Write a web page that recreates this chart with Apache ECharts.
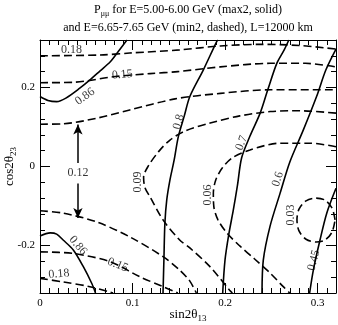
<!DOCTYPE html>
<html>
<head>
<meta charset="utf-8">
<script src="https://cdn.jsdelivr.net/npm/echarts@6.0.0/dist/echarts.min.js"></script>
<style>
html, body { margin: 0; padding: 0; background: #fff; }
#chart { width: 338px; height: 325px; }
</style>
</head>
<body>
<div id="chart"></div>
<script>
// ticks
var xMajor = [0, 0.1, 0.2, 0.3];
var yMajor = [-0.2, 0, 0.2];

// max2 contours (solid), [sin2θ13, cos2θ23]
var max2_086a = [[0,0.177],[0.0086,0.167],[0.018,0.164],[0.028,0.173],[0.043,0.198],[0.054,0.219],[0.065,0.242],[0.076,0.265],[0.085,0.292],[0.094,0.32]];
var max2_086b = [[0,-0.176],[0.011,-0.168],[0.018,-0.171],[0.025,-0.186],[0.036,-0.211],[0.047,-0.254],[0.056,-0.296],[0.060,-0.32]];
var max2_080 = [[0.133,-0.32],[0.134,-0.232],[0.135,-0.144],[0.137,-0.085],[0.1405,-0.034],[0.145,0.016],[0.1495,0.075],[0.156,0.128],[0.162,0.177],[0.1765,0.244],[0.191,0.316],[0.1924,0.32]];
var max2_070 = [[0.1975,-0.32],[0.200,-0.237],[0.204,-0.173],[0.209,-0.110],[0.2135,-0.047],[0.218,0.022],[0.227,0.077],[0.238,0.135],[0.2465,0.196],[0.256,0.261],[0.264,0.295],[0.269,0.32]];
var max2_060 = [[0.240,-0.32],[0.2414,-0.237],[0.2486,-0.152],[0.2595,-0.068],[0.270,0.011],[0.2846,0.092],[0.299,0.177],[0.309,0.244],[0.32,0.297]];
var max2_045 = [[0.32,-0.055],[0.31,-0.118],[0.3027,-0.186],[0.2955,-0.262],[0.2915,-0.32]];

// min2 contours (dashed)
var min2_018a = [[0,0.280],[0.065,0.282],[0.097,0.287],[0.151,0.295],[0.195,0.305],[0.238,0.309],[0.281,0.306],[0.32,0.297]];
var min2_015a = [[0,0.212],[0.036,0.213],[0.079,0.227],[0.119,0.235],[0.149,0.240],[0.195,0.252],[0.249,0.261],[0.287,0.261],[0.32,0.252]];
var min2_012a = [[0,0.107],[0.025,0.108],[0.061,0.122],[0.097,0.143],[0.146,0.171],[0.195,0.185],[0.249,0.194],[0.32,0.194]];
var min2_012b = [[0,-0.112],[0.025,-0.118],[0.061,-0.140],[0.097,-0.178],[0.133,-0.228],[0.151,-0.262],[0.162,-0.290],[0.169,-0.32]];
var min2_015b = [[0,-0.216],[0.036,-0.220],[0.076,-0.241],[0.108,-0.279],[0.133,-0.304],[0.149,-0.32]];
var min2_018b = [[0,-0.283],[0.025,-0.292],[0.054,-0.304],[0.079,-0.32]];
var min2_009 = [[0.32,0.135],[0.281,0.141],[0.249,0.139],[0.216,0.128],[0.184,0.110],[0.157,0.090],[0.1405,0.067],[0.128,0.037],[0.117,0.001],[0.112,-0.027],[0.1135,-0.054],[0.119,-0.077],[0.133,-0.135],[0.151,-0.186],[0.162,-0.206],[0.184,-0.254],[0.205,-0.313],[0.208,-0.32]];
var min2_006 = [[0.32,0.050],[0.292,0.059],[0.2595,0.059],[0.227,0.042],[0.2076,0.0215],[0.197,-0.004],[0.190,-0.034],[0.1874,-0.068],[0.188,-0.1025],[0.1924,-0.135],[0.202,-0.168],[0.216,-0.201],[0.232,-0.234],[0.249,-0.270],[0.263,-0.304],[0.270,-0.32]];
var min2_003 = [[0.319,-0.135],[0.3157,-0.105],[0.3081,-0.085],[0.2984,-0.080],[0.2876,-0.087],[0.280,-0.108],[0.2778,-0.135],[0.280,-0.163],[0.2876,-0.184],[0.2984,-0.191],[0.3081,-0.186],[0.3157,-0.166],[0.319,-0.135]];

// contour labels
var labelText = ['0.18','0.15','0.86','0.8','0.7','0.09','0.06','0.6','0.03','0.45','0.12','0.86','0.15','0.18'];
var labelAt = [[0.034,0.296],[0.089,0.232],[0.0486,0.177],[0.150,0.113],[0.218,0.0595],[0.106,-0.039],[0.1816,-0.072],[0.257,-0.032],[0.2714,-0.123],[0.296,-0.237],[0.041,-0.0165],[0.041,-0.2],[0.084,-0.249],[0.0205,-0.272]];
var labelAngle = [0, 5, 35, 75, 70, 90, 90, 72, 90, 75, 0, -50, -22, 5];

// the 0.12 double arrow
var arrowX = 0.041;
var arrowUp = [0.009, 0.106];
var arrowDown = [-0.043, -0.13];

var serif = 'Liberation Serif';
var myChart = echarts.init(document.getElementById('chart'));

function contour(data, dashed) {
  return {
    type: 'line',
    data: data,
    symbol: 'none',
    smooth: 0.3,
    silent: true,
    lineStyle: { color: '#000', width: 1.6, type: dashed ? [8, 4] : 'solid' },
    z: 2
  };
}

function majorX(pos) {
  return {
    type: 'value', position: pos, min: 0, max: 0.32,
    axisLine: { show: true, onZero: false, lineStyle: { color: '#000', width: 1 } },
    axisTick: { show: true, inside: true, length: 10, customValues: xMajor, lineStyle: { color: '#000' } },
    axisLabel: { show: pos == 'bottom', customValues: xMajor, margin: 5, color: '#000', fontFamily: serif, fontSize: 11 },
    splitLine: { show: false }
  };
}
function minorX(pos) {
  return {
    type: 'value', position: pos, min: 0, max: 0.32, interval: 0.01,
    axisLine: { show: false, onZero: false },
    axisTick: { show: true, inside: true, length: 5, lineStyle: { color: '#000' } },
    axisLabel: { show: false },
    splitLine: { show: false }
  };
}
function majorY(pos) {
  return {
    type: 'value', position: pos, min: -0.32, max: 0.32,
    axisLine: { show: true, onZero: false, lineStyle: { color: '#000', width: 1 } },
    axisTick: { show: true, inside: true, length: 10, customValues: yMajor, lineStyle: { color: '#000' } },
    axisLabel: { show: pos == 'left', customValues: yMajor, margin: 5, color: '#000', fontFamily: serif, fontSize: 11 },
    splitLine: { show: false }
  };
}
function minorY(pos) {
  return {
    type: 'value', position: pos, min: -0.32, max: 0.32, interval: 0.04,
    axisLine: { show: false, onZero: false },
    axisTick: { show: true, inside: true, length: 5, lineStyle: { color: '#000' } },
    axisLabel: { show: false },
    splitLine: { show: false }
  };
}

var nameRich = {
  a: { fontFamily: serif, fontSize: 13, fontWeight: 'normal', color: '#000', lineHeight: 16 },
  s: { fontFamily: serif, fontSize: 9, fontWeight: 'normal', color: '#000', lineHeight: 16, padding: [8, 0, 0, 0] }
};
var xBottom = majorX('bottom');
xBottom.name = '{a|sin2θ}{s|13}';
xBottom.nameLocation = 'middle';
xBottom.nameGap = 14;
xBottom.nameMoveOverlap = false;
xBottom.nameTextStyle = { rich: nameRich };
var yLeft = majorY('left');
yLeft.name = '{a|cos2θ}{s|23}';
yLeft.nameLocation = 'middle';
yLeft.nameRotate = 90;
yLeft.nameGap = 22;
yLeft.nameMoveOverlap = false;
yLeft.nameTextStyle = { rich: nameRich };

var labelData = labelText.map(function (t, i) {
  return { name: t, value: labelAt[i], label: { rotate: labelAngle[i] } };
});

var series = [
  contour(max2_086a), contour(max2_086b), contour(max2_080), contour(max2_070), contour(max2_060), contour(max2_045),
  contour(min2_018a, true), contour(min2_015a, true), contour(min2_012a, true), contour(min2_012b, true),
  contour(min2_015b, true), contour(min2_018b, true), contour(min2_009, true), contour(min2_006, true), contour(min2_003, true),
  {
    type: 'scatter',
    data: labelData,
    symbolSize: 1,
    itemStyle: { color: 'rgba(0,0,0,0)' },
    silent: true,
    label: {
      show: true, position: 'inside', color: '#000', fontFamily: serif, fontSize: 12,
      formatter: function (p) { return p.name; }
    },
    z: 3
  },
  {
    type: 'line',
    data: [],
    markLine: {
      silent: true,
      animation: false,
      symbol: ['none', 'arrow'],
      symbolSize: [7, 10],
      label: { show: false },
      lineStyle: { color: '#000', width: 1.5, type: 'solid' },
      data: [
        [{ coord: [arrowX, arrowUp[0]] }, { coord: [arrowX, arrowUp[1]] }],
        [{ coord: [arrowX, arrowDown[0]] }, { coord: [arrowX, arrowDown[1]] }]
      ]
    }
  }
];

myChart.setOption({
  animation: false,
  backgroundColor: '#fff',
  title: {
    text: '{a|P}{s|μμ}{a| for E=5.00-6.00 GeV (max2, solid)}\n{a|and E=6.65-7.65 GeV (min2, dashed), L=12000 km}',
    left: 188,
    top: 1,
    padding: 0,
    textAlign: 'center',
    textStyle: {
      fontWeight: 'normal',
      rich: {
        a: { fontFamily: serif, fontSize: 12, fontWeight: 'normal', color: '#000', lineHeight: 18 },
        s: { fontFamily: serif, fontSize: 8, fontWeight: 'normal', color: '#000', lineHeight: 18, padding: [7, 0, 0, 0] }
      }
    }
  },
  grid: { left: 40, right: 2, top: 40, bottom: 32, containLabel: false, outerBoundsMode: 'none' },
  xAxis: [xBottom, minorX('bottom'), majorX('top'), minorX('top')],
  yAxis: [yLeft, minorY('left'), majorY('right'), minorY('right')],
  series: series
});
</script>
</body>
</html>
